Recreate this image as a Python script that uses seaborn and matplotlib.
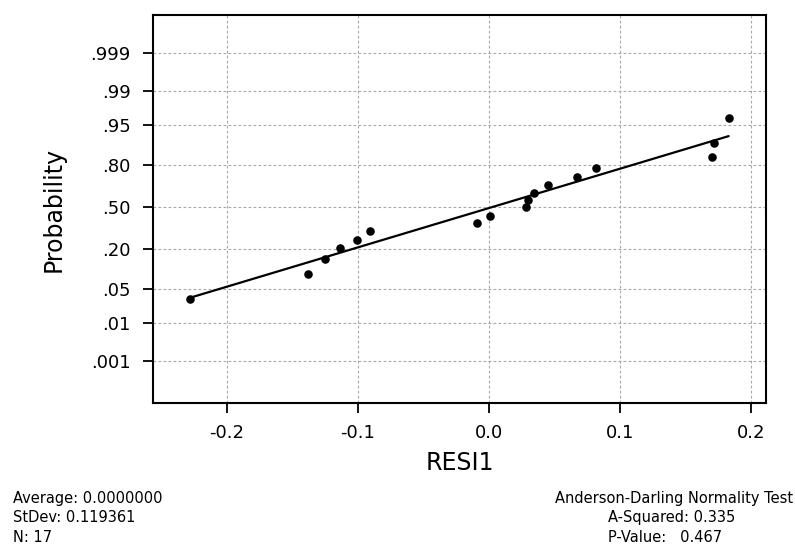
"""
Normal probability plot of residuals (RESI1), Minitab style.
"""

from statistics import NormalDist

import matplotlib
matplotlib.use("Agg")
import matplotlib.pyplot as plt
import matplotlib.ticker as mticker
import numpy as np
import seaborn as sns

# ============================================================
# Data
# ============================================================
resid = [-0.228, -0.138, -0.125, -0.114, -0.101, -0.091, -0.009, 0.001, 0.028,
         0.030, 0.034, 0.045, 0.067, 0.082, 0.170, 0.172, 0.183]
prob = [0.0325, 0.090, 0.146, 0.205, 0.255, 0.312, 0.374, 0.428, 0.498,
        0.556, 0.611, 0.669, 0.727, 0.782, 0.843, 0.900, 0.9625]

# fitted line end points
line_x = [-0.228, 0.183]
line_p = [0.034, 0.923]

prob_ticks = [0.001, 0.01, 0.05, 0.20, 0.50, 0.80, 0.95, 0.99, 0.999]
prob_labels = [".001", ".01", ".05", ".20", ".50", ".80", ".95", ".99", ".999"]
x_ticks = [-0.2, -0.1, 0.0, 0.1, 0.2]
x_labels = ["-0.2", "-0.1", "0.0", "0.1", "0.2"]

stats_left = ["Average: 0.0000000", "StDev: 0.119361", "N: 17"]
stats_title = "Anderson-Darling Normality Test"
stats_right = ["A-Squared: 0.335", "P-Value:   0.467"]

# ============================================================
# Normal probability scale
# ============================================================
_nd = NormalDist()


def probit(p):
    p = np.asarray(p, dtype=float)
    p = np.where(np.isfinite(p), p, 0.5)
    p = np.clip(p, 1e-10, 1 - 1e-10)
    return np.vectorize(_nd.inv_cdf, otypes=[float])(p)


def inv_probit(z):
    z = np.asarray(z, dtype=float)
    z = np.where(np.isfinite(z), z, 0.0)
    return np.vectorize(_nd.cdf, otypes=[float])(z)


# ============================================================
# Plot
# ============================================================
sns.set_style("ticks")
plt.rcParams["font.family"] = ["DejaVu Sans"]
plt.rcParams["axes.unicode_minus"] = False
plt.rcParams["text.color"] = "black"
plt.rcParams["axes.labelcolor"] = "black"

fig = plt.figure(figsize=(7.95, 5.47), dpi=100)
ax = fig.add_axes([0.1925, 0.2633, 0.771, 0.7093])

ax.set_yscale("function", functions=(probit, inv_probit))

sns.scatterplot(x=resid, y=prob, ax=ax, color="black", s=38,
                edgecolor="black", linewidth=0, zorder=3)
sns.lineplot(x=line_x, y=line_p, ax=ax, color="black", linewidth=1.6,
             estimator=None, sort=False, zorder=2)

ax.set_xlim(-0.2565, 0.2115)
ax.set_ylim(4.0e-5, 0.999944)

ax.yaxis.set_major_locator(mticker.FixedLocator(prob_ticks))
ax.yaxis.set_major_formatter(mticker.FixedFormatter(prob_labels))
ax.yaxis.set_minor_locator(mticker.NullLocator())
ax.set_xticks(x_ticks)
ax.set_xticklabels(x_labels)

ax.grid(True, color="#a8a8a8", linestyle=(0, (2.5, 2)), linewidth=0.8)
ax.set_axisbelow(True)

for side in ["top", "right", "bottom", "left"]:
    ax.spines[side].set_visible(True)
    ax.spines[side].set_linewidth(1.5)
    ax.spines[side].set_color("black")

ax.tick_params(axis="both", direction="out", length=7, width=1.3,
               colors="black", labelsize=13)
ax.tick_params(axis="y", pad=9)
ax.tick_params(axis="x", pad=8)

ax.set_xlabel("RESI1", fontsize=17, color="black")
ax.set_ylabel("Probability", fontsize=17, color="black")
ax.xaxis.set_label_coords(0.5, -0.125)
ax.yaxis.set_label_coords(-0.143, 0.5)

# summary text under the plot
for i, txt in enumerate(stats_left):
    fig.text(13 / 795, 1 - (498 + 19.5 * i) / 547, txt, fontsize=10.5,
             ha="left", va="center", color="black")
fig.text(793 / 795, 1 - 498 / 547, stats_title, fontsize=10.5,
         ha="right", va="center", color="black")
for i, txt in enumerate(stats_right):
    fig.text(608 / 795, 1 - (517.5 + 19.5 * i) / 547, txt, fontsize=10.5,
             ha="left", va="center", color="black")

fig.savefig("out.png", dpi=100, facecolor="white")
plt.close(fig)
